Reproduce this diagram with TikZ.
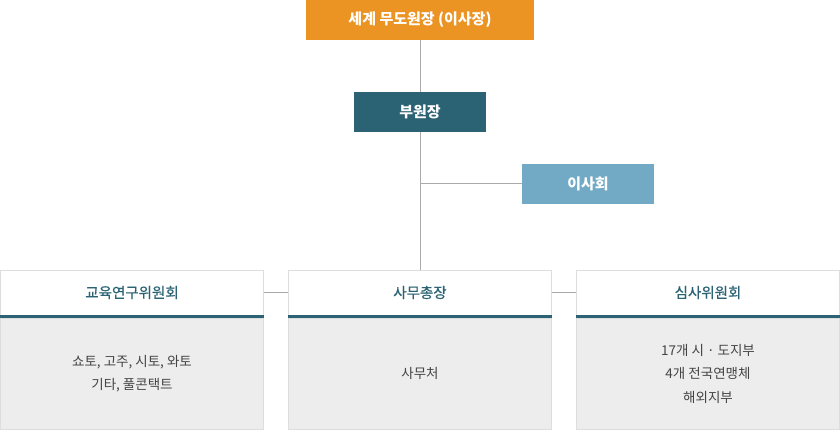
\documentclass[tikz,border=0pt]{standalone}
\usepackage{fontspec}
\setmainfont{Noto Sans CJK KR}
\newfontfamily\headfont[FakeBold=0.6]{Noto Sans CJK KR}
\definecolor{chairorange}{HTML}{EB9323}
\definecolor{viceteal}{HTML}{2B6374}
\definecolor{boardblue}{HTML}{72AAC6}
\definecolor{linegray}{HTML}{AAAAAA}
\definecolor{edgegray}{HTML}{DDDDDD}
\definecolor{bodygray}{HTML}{EDEDED}
\definecolor{textgray}{HTML}{444444}

\begin{document}
\begin{tikzpicture}[x=1pt, y=-1pt,
    rank/.style={rectangle, inner sep=0pt, minimum height=40pt, text=white,
        font=\fontsize{15}{18}\selectfont\bfseries},
    head/.style={rectangle, draw=edgegray, fill=white, inner sep=0pt,
        minimum width=263pt, minimum height=45pt, text=viceteal,
        font=\headfont\fontsize{14.5}{17}\selectfont},
    body/.style={rectangle, draw=edgegray, fill=bodygray, inner sep=0pt,
        minimum width=263pt, minimum height=111pt, text=textgray, align=center,
        font=\fontsize{13.5}{23.5}\selectfont},
    link/.style={draw=linegray, line width=1pt}]
\useasboundingbox (0,0) rectangle (840,430);

\node [rank, fill=chairorange, minimum width=228pt] (chair) at (420,20) {세계 무도원장 (이사장)};
\node [rank, fill=viceteal, minimum width=132pt] (vice) at (420,112) {부원장};
\node [rank, fill=boardblue, minimum width=132pt] (board) at (588,184) {이사회};

\node [head] (edu) at (132,292.5) {교육연구위원회};
\node [head] (office) at (420,292.5) {사무총장};
\node [head] (exam) at (708,292.5) {심사위원회};

\node [body] (edubody) at (132,373.5) {쇼토, 고주, 시토, 와토\\기타, 풀콘택트};
\node [body] (officebody) at (420,373.5) {사무처};
\node [body] (exambody) at (708,373.5) {17개 시 · 도지부\\4개 전국연맹체\\해외지부};

\foreach \h in {edu, office, exam}
    \draw [viceteal, line width=3pt] ([yshift=-1.5pt]\h.south west) -- ([yshift=-1.5pt]\h.south east);

\coordinate (fork) at (420,184);
\draw [link] (chair.south) -- (vice.north);
\draw [link] (vice.south) -- (office.north);
\draw [link] (board.west) -- (fork);
\draw [link] (edu.east) -- (office.west);
\draw [link] (office.east) -- (exam.west);
\end{tikzpicture}
\end{document}
